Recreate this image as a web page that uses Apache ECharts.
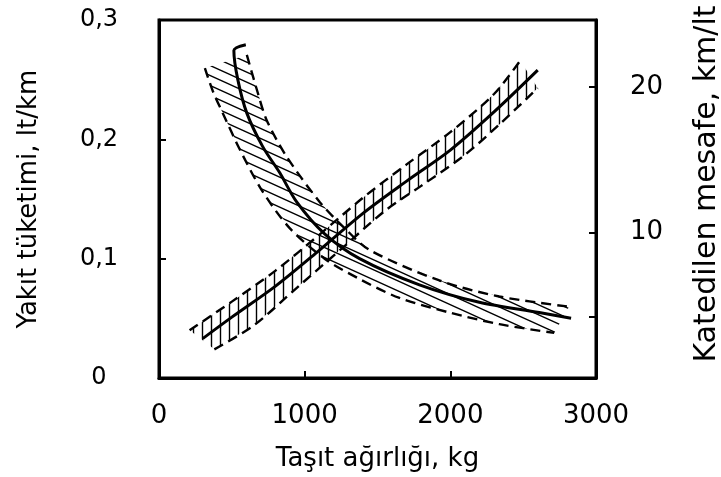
<!DOCTYPE html>
<html><head><meta charset="utf-8">
<script src="https://cdn.jsdelivr.net/npm/echarts@6/dist/echarts.min.js"></script>
<style>html,body{margin:0;padding:0;background:#fff}#c{width:721px;height:477px}</style>
</head><body><div id="c"></div>
<script>
// ---- axis ticks / labels ----
const xTicks = [0, 1000, 2000, 3000];
const yLeftLabels = ['0', '0,1', '0,2', '0,3'];
const yRightTickValues = [4.2, 10, 20];
const yRightLabelValues = [10, 20];

// ---- increasing band (fuel consumption, lt/km, left axis) ----
const incMidX = [300, 500, 800, 1100, 1400, 1700, 2000, 2300, 2600];
const incMidY = [0.033, 0.051, 0.077, 0.107, 0.138, 0.165, 0.191, 0.223, 0.258];
const incUpX = [210, 500, 800, 1100, 1400, 1700, 2000, 2300, 2480];
const incUpY = [0.040, 0.064, 0.090, 0.120, 0.151, 0.179, 0.206, 0.238, 0.266];
const incLowX = [380, 650, 950, 1250, 1550, 1800, 2100, 2350, 2600];
const incLowY = [0.024, 0.044, 0.076, 0.108, 0.140, 0.161, 0.187, 0.214, 0.243];

// ---- decreasing band (distance per litre, km/lt, right axis) ----
const decMidX = [596, 514, 541, 603, 712, 829, 945, 1137, 1377, 1788, 2199, 2610, 2829];
const decMidY = [22.9, 22.5, 20.5, 18.2, 15.9, 14.1, 12.1, 9.9, 8.2, 6.4, 5.2, 4.5, 4.1];
const decLeftX = [315, 370, 438, 555, 706, 897, 1137, 1377, 1651, 1993, 2336, 2713];
const decLeftY = [21.3, 19.7, 18.2, 15.7, 12.9, 10.3, 8.2, 6.8, 5.5, 4.5, 3.7, 3.1];
const decRightX = [603, 678, 740, 877, 1103, 1274, 1445, 1925, 2336, 2815];
const decRightY = [22.2, 19.6, 17.7, 15.2, 12.1, 10.3, 8.8, 6.7, 5.6, 4.9];

const zip = (xs, ys) => xs.map((x, i) => [x, ys[i]]);

function hatch(type) {
  const c = document.createElement('canvas');
  const g0 = c.getContext('2d');
  if (type === 'diag') {
    const w = 22, h = 10;
    c.width = w; c.height = h;
    const g = c.getContext('2d');
    g.strokeStyle = '#000'; g.lineWidth = 1.4;
    g.beginPath();
    for (let k = -1; k <= 1; k++) {
      g.moveTo(-2, (h / w) * -2 + k * h);
      g.lineTo(w + 2, (h / w) * (w + 2) + k * h);
    }
    g.stroke();
  } else {
    const s = 9;
    c.width = s; c.height = s;
    const g = c.getContext('2d');
    g.strokeStyle = '#000'; g.lineWidth = 1.4;
    g.beginPath();
    g.moveTo(s / 2, 0); g.lineTo(s / 2, s);
    g.stroke();
  }
  return { image: c, repeat: 'repeat' };
}

function band(upper, lower, yIdx, pattern) {
  return {
    type: 'custom', yAxisIndex: yIdx, clip: true, silent: true,
    data: [[0, 0]],
    renderItem: function (params, api) {
      const pts = upper.map(p => api.coord(p)).concat(lower.slice().reverse().map(p => api.coord(p)));
      return { type: 'polygon', shape: { points: pts }, style: { fill: pattern, stroke: null } };
    },
    z: 1
  };
}

const FONT = 'DejaVu Sans';
const dashed = { color: '#000', width: 2.4, type: [10, 6] };
const solid = { color: '#000', width: 3 };
function line(data, yIdx, style) {
  return { type: 'line', yAxisIndex: yIdx, data: data, showSymbol: false, symbol: 'none',
           smooth: 0.3, lineStyle: style, z: 3, silent: true };
}

const chart = echarts.init(document.getElementById('c'), null, { renderer: 'canvas' });
chart.setOption({
  animation: false,
  backgroundColor: '#fff',
  grid: { left: 159, right: 125, top: 20, bottom: 99, show: true, borderColor: '#000', borderWidth: 3,
          containLabel: false, outerBoundsMode: 'none' },
  xAxis: {
    type: 'value', min: xTicks[0], max: xTicks[xTicks.length - 1], interval: 1000,
    name: 'Taşıt ağırlığı, kg', nameLocation: 'middle', nameGap: 68,
    nameTextStyle: { fontFamily: FONT, fontSize: 26, color: '#000' },
    axisLine: { show: true, lineStyle: { color: '#000', width: 3 } },
    axisTick: { show: true, inside: true, length: 7, lineStyle: { color: '#000', width: 2 } },
    axisLabel: { fontFamily: FONT, fontSize: 26, color: '#000', margin: 25,
                 formatter: v => String(v) },
    splitLine: { show: false }
  },
  yAxis: [{
    type: 'value', position: 'left', min: 0, max: 0.3, interval: 0.1,
    name: 'Yakıt tüketimi, lt/km', nameLocation: 'middle', nameGap: 117,
    nameTextStyle: { fontFamily: FONT, fontSize: 26, color: '#000' },
    axisLine: { show: true, lineStyle: { color: '#000', width: 3 } },
    axisTick: { show: true, inside: true, length: 7, lineStyle: { color: '#000', width: 2 } },
    axisLabel: { fontFamily: FONT, fontSize: 24, color: '#000', margin: 60, align: 'center',
                 formatter: v => yLeftLabels[Math.round(v * 10)] },
    splitLine: { show: false }
  }, {
    type: 'value', position: 'right', min: 0, max: 24.6, interval: 10,
    name: 'Katedilen mesafe, km/lt', nameLocation: 'middle', nameGap: 96,
    nameTextStyle: { fontFamily: FONT, fontSize: 30, color: '#000', padding: [0, 0, 0, 30] },
    axisLine: { show: true, lineStyle: { color: '#000', width: 3 } },
    axisTick: { show: true, inside: true, length: 7, customValues: yRightTickValues, lineStyle: { color: '#000', width: 2 } },
    axisLabel: { fontFamily: FONT, fontSize: 26, color: '#000', margin: 34, customValues: yRightLabelValues,
                 formatter: v => (yRightLabelValues.indexOf(v) >= 0 ? String(v) : '') },
    splitLine: { show: false }
  }],
  series: [
    band(zip(incUpX, incUpY), zip(incLowX, incLowY), 0, hatch('vert')),
    band(zip(decRightX, decRightY), zip(decLeftX, decLeftY), 1, hatch('diag')),
    line(zip(incUpX, incUpY), 0, dashed),
    line(zip(incLowX, incLowY), 0, dashed),
    line(zip(incMidX, incMidY), 0, solid),
    line(zip(decLeftX, decLeftY), 1, dashed),
    line(zip(decRightX, decRightY), 1, dashed),
    line(zip(decMidX, decMidY), 1, solid)
  ]
});
</script></body></html>
